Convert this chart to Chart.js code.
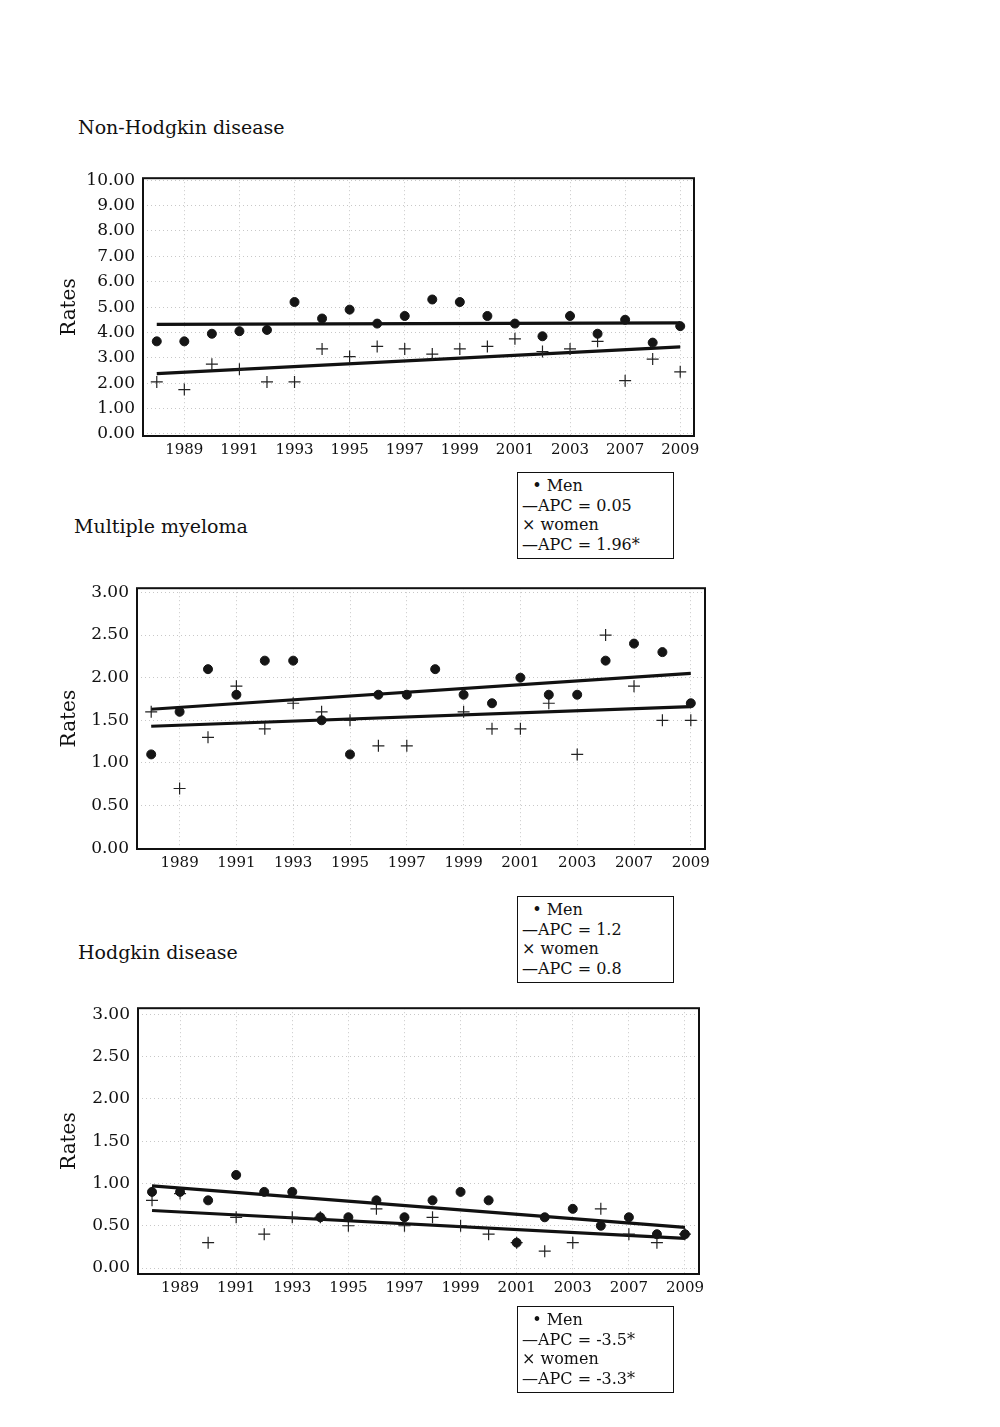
<!DOCTYPE html>
<html>
<head>
<meta charset="utf-8">
<script src="https://cdn.jsdelivr.net/npm/chart.js@4.4.0/dist/chart.umd.min.js"></script>
<style>
  body { margin: 0; background: #fff; }
  #page { position: relative; width: 1000px; height: 1427px; font-family: "DejaVu Serif", "Liberation Serif", serif; color: #111; }
  .titulo { position: absolute; font-size: 19px; white-space: nowrap; }
  .caixa { position: absolute; border: 1.5px solid #111; box-sizing: border-box; width: 157px; height: 87px;
           font-size: 16px; line-height: 19.5px; padding: 3px 0 0 4px; white-space: nowrap; }
  .grafico { position: absolute; }
</style>
</head>
<body>
<div id="page">
  <div class="titulo" style="left:78px; top:116px;">Non-Hodgkin disease</div>
  <div class="grafico" style="left:40px; top:160px; width:680px; height:310px;"><canvas id="nhl"></canvas></div>
  <div class="caixa" style="left:517px; top:472px;">&nbsp;&nbsp;• Men<br>—APC = 0.05<br>× women<br>—APC = 1.96*</div>

  <div class="titulo" style="left:74px; top:515px;">Multiple myeloma</div>
  <div class="grafico" style="left:40px; top:570px; width:690px; height:310px;"><canvas id="mm"></canvas></div>
  <div class="caixa" style="left:517px; top:896px;">&nbsp;&nbsp;• Men<br>—APC = 1.2<br>× women<br>—APC = 0.8</div>

  <div class="titulo" style="left:78px; top:941px;">Hodgkin disease</div>
  <div class="grafico" style="left:40px; top:990px; width:680px; height:320px;"><canvas id="hd"></canvas></div>
  <div class="caixa" style="left:517px; top:1306px;">&nbsp;&nbsp;• Men<br>—APC = -3.5*<br>× women<br>—APC = -3.3*</div>
</div>

<script>
// years on the x axis (only every second one is labelled)
const years = ['1988', '1989', '1990', '1991', '1992', '1993', '1994', '1995', '1996', '1997',
  '1998', '1999', '2000', '2001', '2002', '2003', '2005', '2007', '2008', '2009'];

// y tick labels
const ticksTen = [0, 1, 2, 3, 4, 5, 6, 7, 8, 9, 10];
const ticksThree = [0, 0.5, 1, 1.5, 2, 2.5, 3];

// Non-Hodgkin disease
const nhlMen = [3.65, 3.65, 3.95, 4.05, 4.1, 5.2, 4.55, 4.9, 4.35, 4.65, 5.3, 5.2, 4.65, 4.35, 3.85, 4.65, 3.95, 4.5, 3.6, 4.25];
const nhlWomen = [2.05, 1.75, 2.75, 2.55, 2.05, 2.05, 3.35, 3.05, 3.45, 3.35, 3.15, 3.35, 3.45, 3.75, 3.25, 3.35, 3.65, 2.1, 2.95, 2.45];
const nhlMenTrend = [4.32, 4.38];
const nhlWomenTrend = [2.38, 3.43];

// Multiple myeloma
const mmMen = [1.1, 1.6, 2.1, 1.8, 2.2, 2.2, 1.5, 1.1, 1.8, 1.8, 2.1, 1.8, 1.7, 2.0, 1.8, 1.8, 2.2, 2.4, 2.3, 1.7];
const mmWomen = [1.6, 0.7, 1.3, 1.9, 1.4, 1.7, 1.6, 1.5, 1.2, 1.2, null, 1.6, 1.4, 1.4, 1.7, 1.1, 2.5, 1.9, 1.5, 1.5];
const mmMenTrend = [1.63, 2.05];
const mmWomenTrend = [1.43, 1.66];

// Hodgkin disease
const hdMen = [0.9, 0.9, 0.8, 1.1, 0.9, 0.9, 0.6, 0.6, 0.8, 0.6, 0.8, 0.9, 0.8, 0.3, 0.6, 0.7, 0.5, 0.6, 0.4, 0.4];
const hdWomen = [0.8, 0.88, 0.3, 0.6, 0.4, 0.6, 0.6, 0.5, 0.7, 0.5, 0.6, 0.5, 0.4, 0.3, 0.2, 0.3, 0.7, 0.4, 0.3, 0.4];
const hdMenTrend = [0.97, 0.48];
const hdWomenTrend = [0.68, 0.35];

const fonte = '"DejaVu Serif", "Liberation Serif", serif';
const corGrade = '#c8c8c8';

// frame around the plot area
const moldura = {
  id: 'moldura',
  afterDatasetsDraw(chart) {
    const a = chart.chartArea;
    const ctx = chart.ctx;
    ctx.save();
    ctx.strokeStyle = '#111';
    ctx.lineWidth = 2;
    ctx.strokeRect(a.left, a.top, a.right - a.left, a.bottom - a.top);
    ctx.restore();
  }
};

function linha(valores) {
  return [{ x: years[0], y: valores[0] }, { x: years[years.length - 1], y: valores[1] }];
}

function criaGrafico(id, cfg) {
  return new Chart(document.getElementById(id), {
    type: 'line',
    data: {
      labels: years,
      datasets: [
        { label: 'Men', data: cfg.men, showLine: false, pointStyle: 'circle', pointRadius: 4.5,
          pointBackgroundColor: '#151515', pointBorderColor: '#151515', order: 1 },
        { label: 'women', data: cfg.women, showLine: false, pointStyle: 'cross', pointRadius: 6,
          pointBorderColor: '#222', pointBorderWidth: 1.2, order: 2 },
        { label: 'Men APC', data: linha(cfg.menTrend), borderColor: '#111', borderWidth: 3.2,
          pointRadius: 0, order: 3 },
        { label: 'women APC', data: linha(cfg.womenTrend), borderColor: '#111', borderWidth: 3.2,
          pointRadius: 0, order: 4 }
      ]
    },
    options: {
      responsive: true,
      maintainAspectRatio: false,
      animation: false,
      layout: { padding: cfg.padding },
      plugins: { legend: { display: false }, tooltip: { enabled: false } },
      scales: {
        x: {
          offset: true,
          border: { display: false, dash: [1, 3] },
          grid: {
            drawTicks: false,
            color: ctx => ctx.index % 2 === 1 ? corGrade : 'rgba(0,0,0,0)'
          },
          ticks: {
            autoSkip: false, maxRotation: 0, padding: 5, color: '#111',
            font: { family: fonte, size: 15 },
            callback: (v, i) => i % 2 === 1 ? years[i] : ''
          },
          afterFit: s => { s.height = cfg.xHeight; }
        },
        y: {
          min: cfg.min, max: cfg.max,
          border: { display: false, dash: [1, 3] },
          grid: { drawTicks: false, color: corGrade },
          ticks: {
            padding: 8, color: '#111',
            font: { family: fonte, size: 17 },
            callback: v => v.toFixed(2)
          },
          afterBuildTicks: s => {
            s.ticks = cfg.ticks.map(v => ({ value: v }));
          },
          title: { display: true, text: 'Rates', color: '#111', font: { family: fonte, size: 20 }, padding: { top: 18 } },
          afterFit: s => { s.width = cfg.yWidth; }
        }
      }
    },
    plugins: [moldura]
  });
}

criaGrafico('nhl', {
  men: nhlMen, women: nhlWomen, menTrend: nhlMenTrend, womenTrend: nhlWomenTrend,
  min: -0.08, max: 10.08, ticks: ticksTen,
  padding: { top: 16, right: 26, bottom: 0, left: 0 }, yWidth: 103, xHeight: 34
});

criaGrafico('mm', {
  men: mmMen, women: mmWomen, menTrend: mmMenTrend, womenTrend: mmWomenTrend,
  min: -0.01, max: 3.05, ticks: ticksThree,
  padding: { top: 17, right: 25, bottom: 0, left: 0 }, yWidth: 97, xHeight: 31
});

criaGrafico('hd', {
  men: hdMen, women: hdWomen, menTrend: hdMenTrend, womenTrend: hdWomenTrend,
  min: -0.07, max: 3.07, ticks: ticksThree,
  padding: { top: 15, right: 21, bottom: 0, left: 0 }, yWidth: 98, xHeight: 36
});
</script>
</body>
</html>
